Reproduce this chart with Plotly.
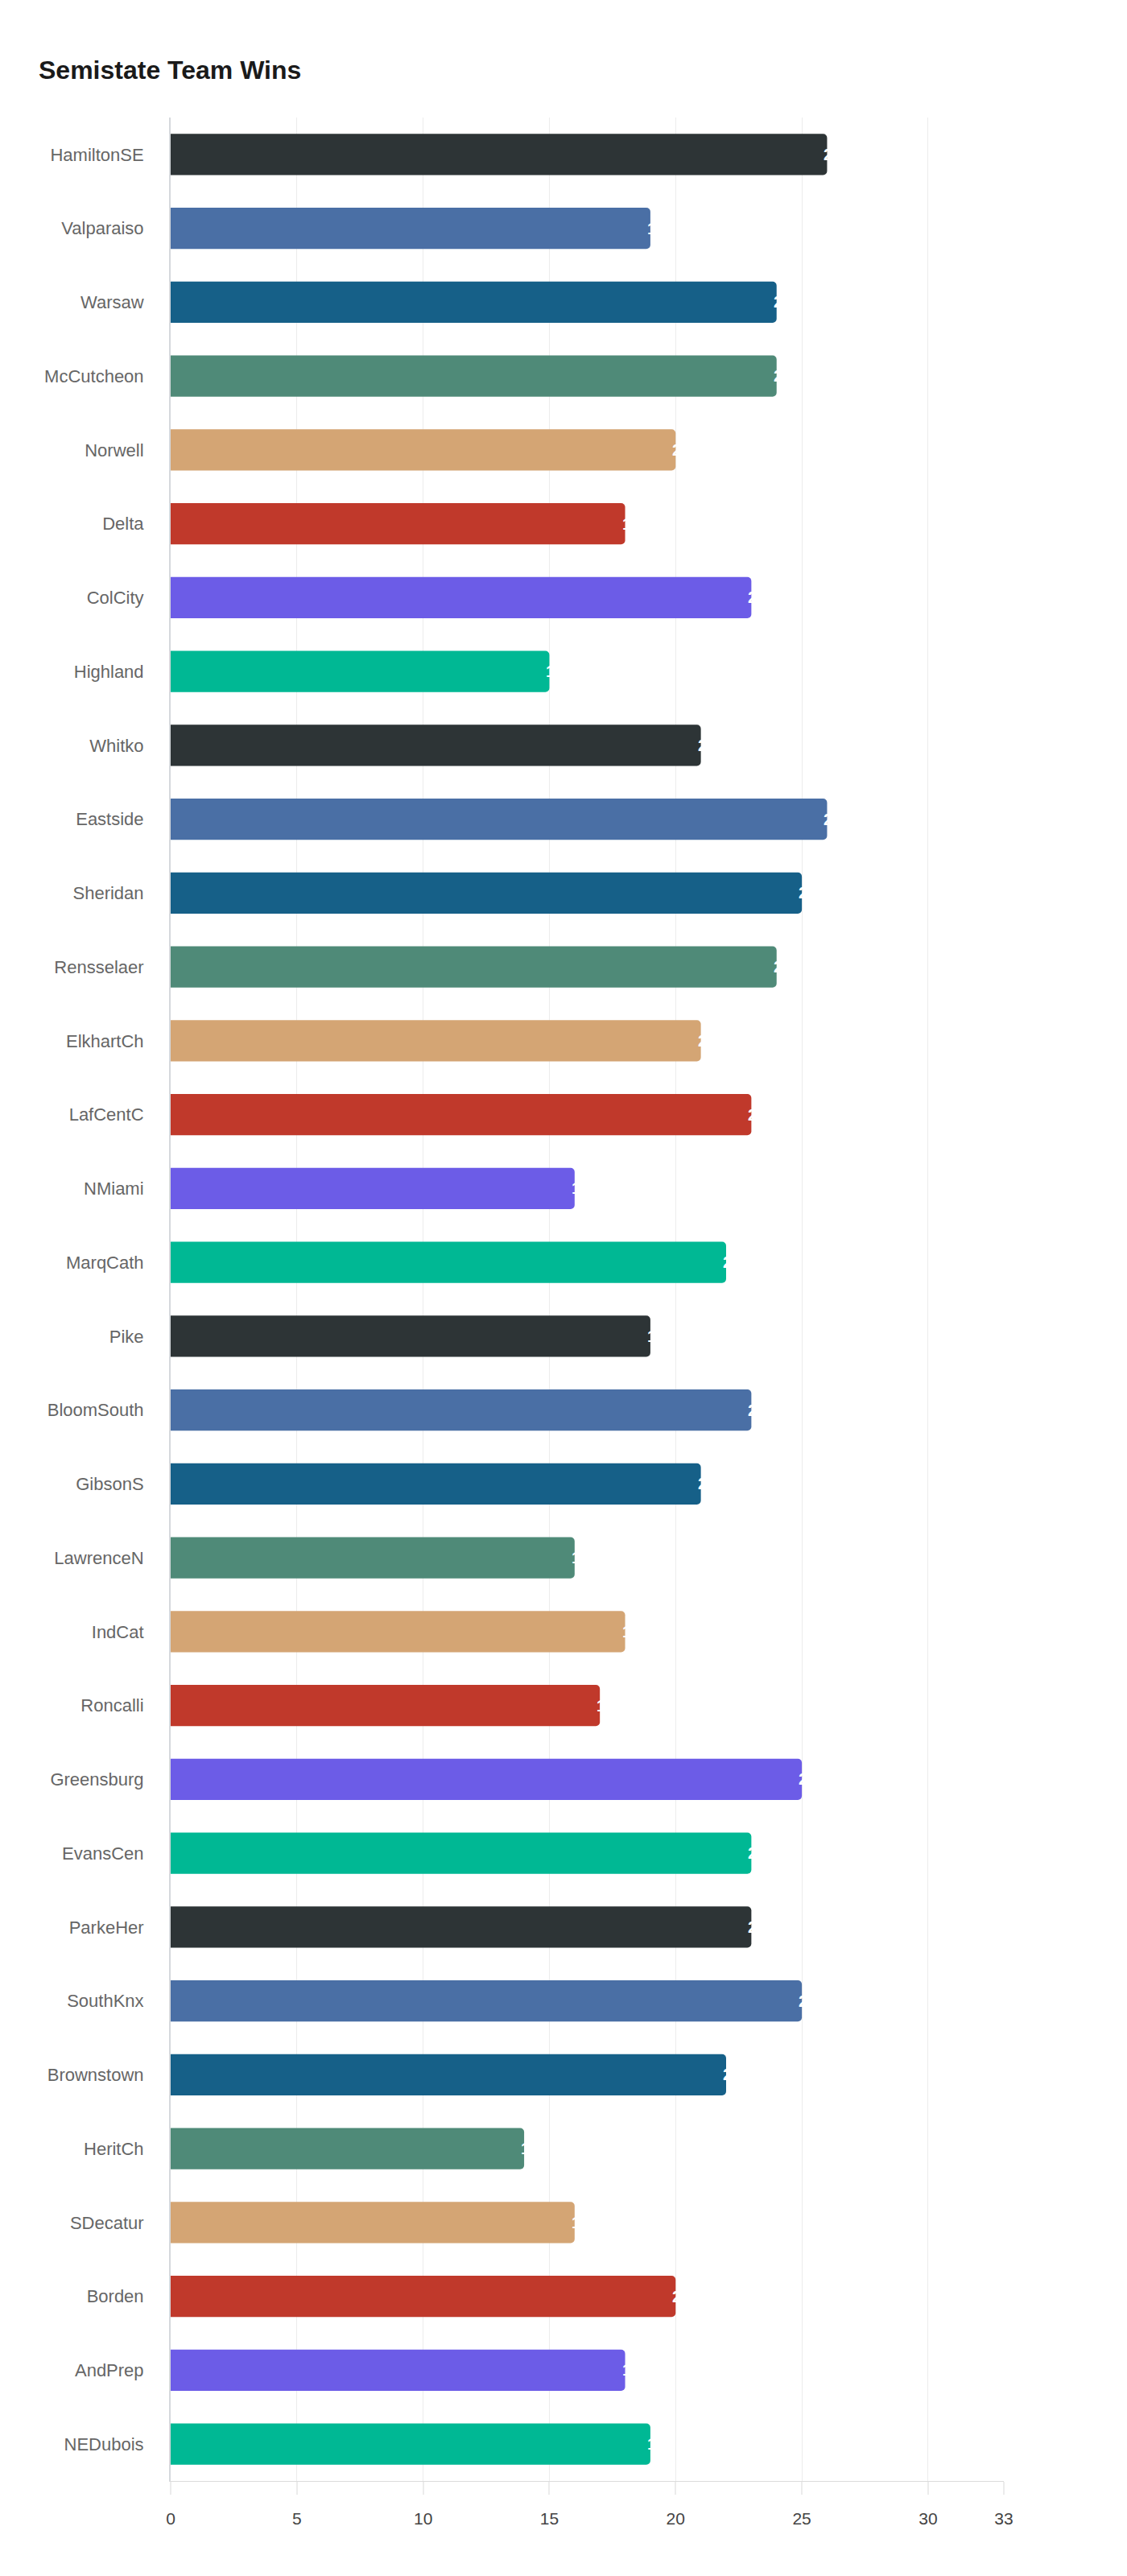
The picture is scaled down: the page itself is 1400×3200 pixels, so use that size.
import plotly.graph_objects as go

teams = ["HamiltonSE", "Valparaiso", "Warsaw", "McCutcheon", "Norwell", "Delta", "ColCity",
         "Highland", "Whitko", "Eastside", "Sheridan", "Rensselaer", "ElkhartCh", "LafCentC",
         "NMiami", "MarqCath", "Pike", "BloomSouth", "GibsonS", "LawrenceN", "IndCat", "Roncalli",
         "Greensburg", "EvansCen", "ParkeHer", "SouthKnx", "Brownstown", "HeritCh", "SDecatur",
         "Borden", "AndPrep", "NEDubois"]
wins = [26, 19, 24, 24, 20, 18, 23, 15, 21, 26, 25, 24, 21, 23, 16, 22, 19, 23, 21, 16, 18, 17,
        25, 23, 23, 25, 22, 14, 16, 20, 18, 19]
x_ticks = [0, 5, 10, 15, 20, 25, 30, 33]

palette = ["#2d3436", "#4a6fa5", "#166088", "#4f8a78", "#d4a574", "#c0392b", "#6c5ce7", "#00b894"]
bar_colors = [palette[i % len(palette)] for i in range(len(teams))]

FONT = "Liberation Sans, Arial, sans-serif"

fig = go.Figure()
fig.add_trace(go.Bar(
    y=teams, x=wins, orientation="h",
    marker=dict(color=bar_colors, line=dict(width=0), cornerradius=5),
    hoverinfo="x+y", showlegend=False,
))

for t, w in zip(teams, wins):
    fig.add_annotation(x=w, y=t, text=str(w), showarrow=False, xanchor="left", yanchor="middle",
                       xshift=-6, font=dict(family=FONT, size=20, color="white", weight="bold"))

fig.update_layout(
    width=1400, height=3200,
    paper_bgcolor="white", plot_bgcolor="white",
    margin=dict(l=204, r=161, t=138, b=126),
    bargap=0.44,
    title=dict(text="<b>Semistate Team Wins</b>", x=40 / 1400, xanchor="left", xref="container",
               y=1 - 79 / 3200, yanchor="middle", yref="container",
               font=dict(family=FONT, size=32, color="#1a1a1a")),
    font=dict(family=FONT),
)
fig.update_xaxes(range=[0, 33], tickvals=x_ticks, ticktext=[str(v) for v in x_ticks],
                 showgrid=True, gridcolor="#ececec", gridwidth=1,
                 showline=True, linecolor="#dcdcdc", linewidth=1,
                 ticks="outside", ticklen=16, tickcolor="#ececec", tickwidth=2,
                 ticklabelstandoff=12,
                 tickfont=dict(family=FONT, size=21, color="#444444"), zeroline=False)
fig.update_yaxes(categoryorder="array", categoryarray=teams, autorange="reversed",
                 showgrid=False, showline=True, linecolor="#d5d8dc", linewidth=2,
                 ticks="", ticklabelstandoff=27,
                 tickfont=dict(family=FONT, size=22, color="#666666"))

fig.write_html("out.html")
